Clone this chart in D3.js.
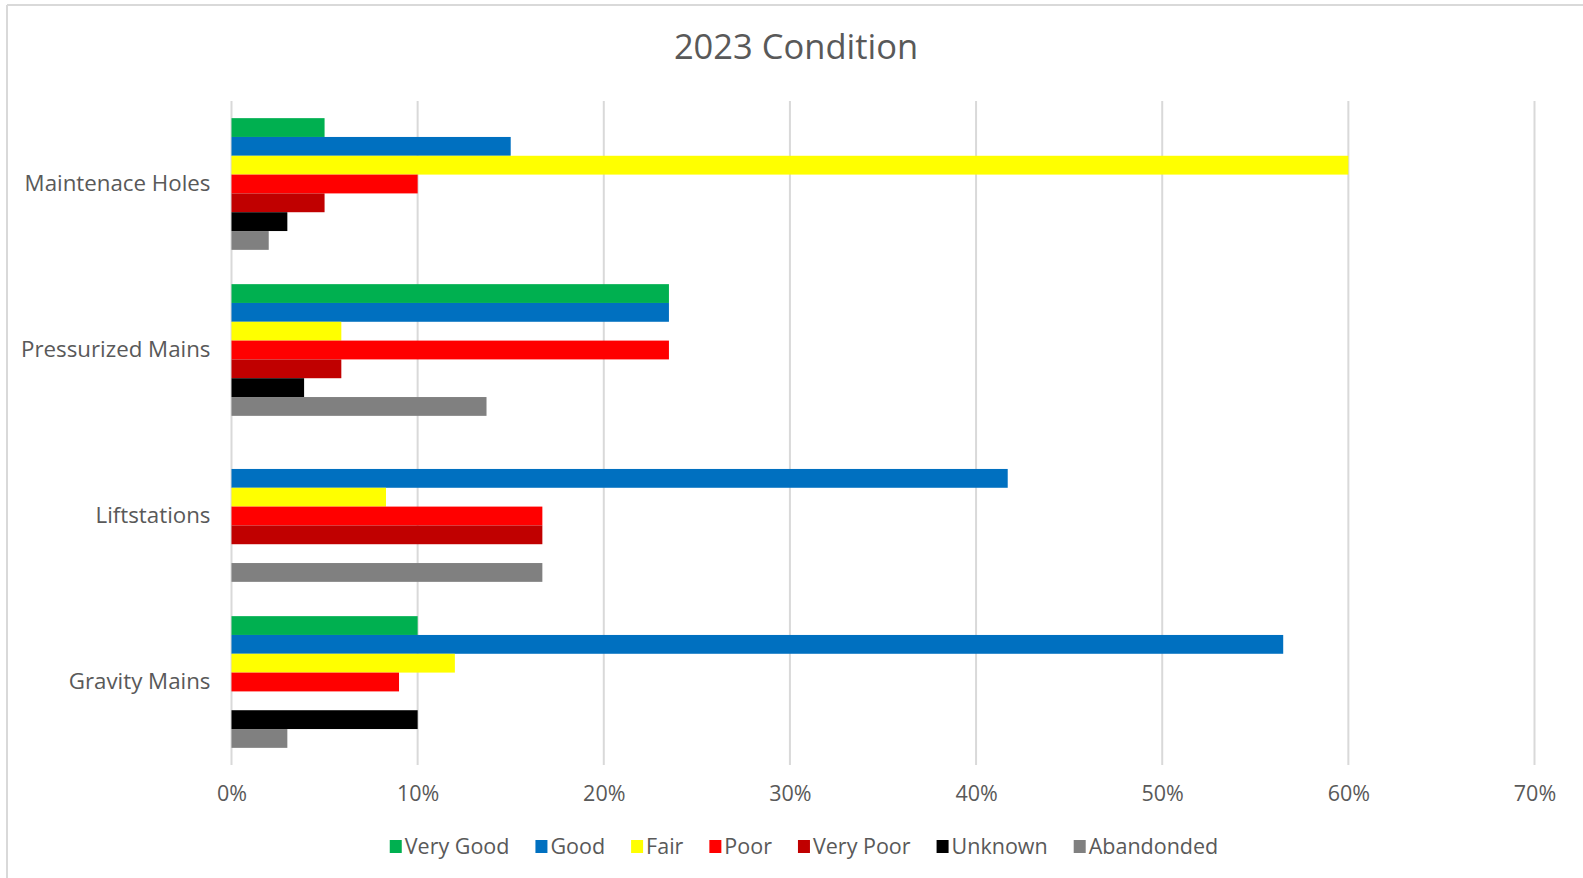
<!DOCTYPE html>
<html>
<head>
<meta charset="utf-8">
<script src="https://cdn.jsdelivr.net/npm/d3@7"></script>
<style>
  html, body { margin: 0; padding: 0; background: #ffffff; overflow: hidden; }
  svg { display: block; }
  text { font-family: "Open Sans", "Liberation Sans", sans-serif; fill: #595959; }
</style>
</head>
<body>
<svg id="chart" width="1583" height="878"></svg>
<script>
// ---- data ----
const categories = ["Maintenace Holes", "Pressurized Mains", "Liftstations", "Gravity Mains"];
const seriesNames = ["Very Good", "Good", "Fair", "Poor", "Very Poor", "Unknown", "Abandonded"];
const seriesColors = ["#00B050", "#0070C0", "#FFFF00", "#FF0000", "#C00000", "#000000", "#808080"];
// values in percent, one array per series, in category order
const veryGood   = [5,    23.5,  0,     10];
const good       = [15,   23.5,  41.7,  56.5];
const fair       = [60,   5.9,   8.3,   12];
const poor       = [10,   23.5,  16.7,  9];
const veryPoor   = [5,    5.9,   16.7,  0];
const unknown    = [3,    3.9,   0,     10];
const abandonded = [2,    13.7,  16.7,  3];
const tickValues = [0, 10, 20, 30, 40, 50, 60, 70];
const titleText = "2023 Condition";

const seriesValues = [veryGood, good, fair, poor, veryPoor, unknown, abandonded];

// ---- layout ----
const W = 1583, H = 878;
const plot = { left: 231.5, right: 1534.5, top: 101, bottom: 765 };
const svg = d3.select("#chart");
const FONT = '"Open Sans", "Liberation Sans", sans-serif';

// chart frame (partially cropped)
svg.append("line").attr("x1", 7).attr("x2", W).attr("y1", 5).attr("y2", 5)
  .attr("stroke", "#d9d9d9").attr("stroke-width", 2);
svg.append("line").attr("x1", 7).attr("x2", 7).attr("y1", 5).attr("y2", H)
  .attr("stroke", "#d9d9d9").attr("stroke-width", 2);

const x = d3.scaleLinear().domain([0, 70]).range([plot.left, plot.right]);
const pad = 0.2066;
const y0 = d3.scaleBand().domain(categories).range([plot.top, plot.bottom])
  .paddingInner(pad).paddingOuter(pad / 2);
const y1 = d3.scaleBand().domain(seriesNames).range([0, y0.bandwidth()]).padding(0);

// gridlines
svg.append("g").selectAll("line").data(tickValues).join("line")
  .attr("x1", d => x(d)).attr("x2", d => x(d))
  .attr("y1", plot.top).attr("y2", plot.bottom)
  .attr("stroke", "#d9d9d9").attr("stroke-width", 2);

// bars
const rows = [];
categories.forEach((c, ci) => {
  seriesNames.forEach((s, si) => {
    rows.push({ cat: c, ser: s, v: seriesValues[si][ci], color: seriesColors[si] });
  });
});
svg.append("g").selectAll("rect").data(rows.filter(d => d.v > 0)).join("rect")
  .attr("x", x(0))
  .attr("y", d => y0(d.cat) + y1(d.ser))
  .attr("width", d => x(d.v) - x(0))
  .attr("height", y1.bandwidth())
  .attr("fill", d => d.color);

// x axis tick labels
const xAxis = d3.axisBottom(x).tickValues(tickValues).tickFormat(d => d + "%").tickSize(0).tickPadding(0);
const gx = svg.append("g").attr("transform", `translate(0, ${plot.bottom + 21})`).call(xAxis);
gx.select(".domain").remove();
gx.selectAll("text").attr("font-size", 21.5).attr("fill", "#595959").style("font-family", FONT);

// y axis category labels
const yAxis = d3.axisLeft(y0).tickSize(0).tickPadding(21);
const gy = svg.append("g").attr("transform", `translate(${x(0)}, 0)`).call(yAxis);
gy.select(".domain").remove();
gy.selectAll("text").attr("font-size", 22.3).attr("fill", "#595959").style("font-family", FONT);

// title
svg.append("text").attr("x", 796).attr("y", 59).attr("text-anchor", "middle")
  .attr("font-size", 34.5).text(titleText);

// legend
const legend = svg.append("g");
let cursor = 0;
const gap = 26;
seriesNames.forEach((s, i) => {
  const g = legend.append("g");
  g.append("rect").attr("x", 0).attr("y", -6).attr("width", 12).attr("height", 13).attr("fill", seriesColors[i]);
  const t = g.append("text").attr("x", 15).attr("y", 7.5).attr("font-size", 21.5).text(s);
  const w = 15 + t.node().getComputedTextLength();
  g.attr("transform", `translate(${cursor}, 0)`);
  cursor += w + gap;
});
const total = cursor - gap;
legend.attr("transform", `translate(${804 - total / 2}, 846)`);
</script>
</body>
</html>
